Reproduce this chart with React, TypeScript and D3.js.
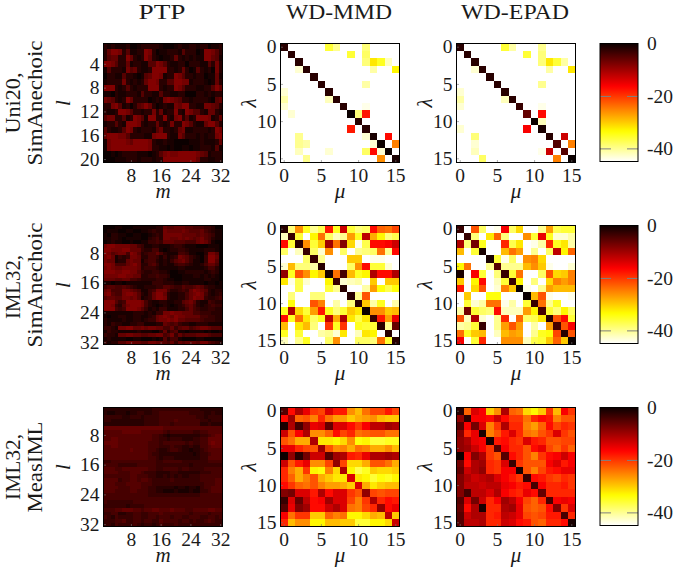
import React, { useEffect, useRef } from 'react';
import * as d3 from 'd3';

const serif = '"Liberation Serif", serif';

// PTP magnitudes: every character is the attenuation in dB of one cell (0 = 0 dB, 8 = -8 dB)
const ptpUni20 = [
  '21211120 01222221 00012112 21220112',
  '26887251 12287201 12221522 20188752',
  '25662286 21286210 11262121 21188651',
  '88752261 22115587 52112202 22115272',
  '15222175 62112888 82212620 15212072',
  '02211522 10156887 12287522 12201161',
  '12222721 21268872 25588771 22210162',
  '88821252 12228882 12287522 21122586',
  '11021122 21522115 22112200 02212122',
  '76521286 22220121 78765221 22221056',
  '22785120 25686201 21176882 21177652',
  '21128875 22122726 12282187 55216621',
  '57722512 87518822 82178251 28887126',
  '12252188 87212262 12722875 21168852',
  '52112587 21222157 22126711 22221287',
  '68887752 22211788 82117522 21212278',
  '17888876 88887211 21100001 11211126',
  '17888888 88887221 10100110 11222151',
  '00101222 21110125 78778888 87651222',
  '00011122 21222122 88888888 86221122',
];

const ptpIml32Sim = [
  '00011000 11111122 65566655 44433200',
  '01110011 00112322 76666765 55643211',
  '10221100 11001232 77777666 65654311',
  '11221011 11002342 77667676 56754211',
  '01211001 00113343 66655544 46764100',
  '78877776 64311221 11233211 10001110',
  '88777886 66322441 01223321 11122210',
  '87567748 75234464 21114431 10027750',
  '78613237 76224431 31237653 21038860',
  '76612267 66134421 21356753 11038850',
  '88744467 86224531 21134432 11246640',
  '78766777 76233321 11112211 11124420',
  '88877887 75322332 21001122 22212320',
  '77778877 66223343 32000111 22121210',
  '66655664 43222233 21100111 11122110',
  '11011011 11111333 22211221 11101101',
  '45544543 21122233 55433544 56532211',
  '67444776 54113477 74223436 87652122',
  '78544788 75213688 62112246 78742123',
  '56655776 75123688 72112246 87732234',
  '88853488 88742112 21122567 52114322',
  '88732578 88742101 21012356 42123433',
  '88843488 87531213 31112246 43223322',
  '11111111 22212133 77877666 44333222',
  '10112211 22112367 87687766 66443322',
  '21111211 22123367 78786655 55433322',
  '21322112 23311122 65453221 12221111',
  '33217788 66767766 44635664 56776555',
  '13221111 12111002 62451101 11101001',
  '32216677 66556677 45736455 56665444',
  '12111100 11000101 52441000 01100000',
  '31225577 66557766 54636566 65775432',
];

const ptpIml32Meas = [
  '22222222 22222333 33333333 33222222',
  '21122212 23322334 44444443 33322322',
  '33333223 33233334 44444444 43323333',
  '33222222 22233334 44454444 44332333',
  '22222222 22233334 44344444 44223222',
  '66666666 66666666 55555555 55555555',
  '55555666 66555555 43444444 33445555',
  '55555555 55555443 21222222 22334566',
  '55665555 55555443 32333222 33446666',
  '66665555 55554443 44444434 33446766',
  '55665555 55554443 33433223 22445666',
  '55555556 55554432 23443221 22345555',
  '55555555 55554332 22222222 12334555',
  '55555555 55554432 33322222 22335555',
  '33444444 44444433 44444333 33334444',
  '44443333 34444433 33333332 33333333',
  '55544555 55554433 44443443 33344444',
  '55554445 55433322 22332222 22333444',
  '44444445 54443322 32323223 33444444',
  '55553445 54554333 33433333 33444455',
  '55544455 55444333 33333333 33344455',
  '55554445 55443322 22212212 21344555',
  '55544445 54443322 11121112 11334555',
  '44444444 44443333 33333333 33444444',
  '44444444 44444444 44444444 44444444',
  '43333333 44444444 44444444 44444444',
  '33333323 33344444 44444444 44444444',
  '44455666 55455665 55655544 55556655',
  '33442233 44334445 44444443 44443444',
  '43243333 44334434 44344334 44334434',
  '33344533 44344335 44443443 43345433',
  '33243333 43233234 33343333 33333333',
];

// -50 is anything below the colour range, drawn white
const mmdUni20 = [
  [-2,-50,-50,-50,-50,-50,-36,-40,-50,-50,-50,-39,-50,-50,-50,-50],
  [-50,-2,-50,-50,-50,-50,-50,-50,-50,-36,-50,-38,-50,-50,-50,-50],
  [-50,-50,-2,-50,-50,-50,-50,-50,-50,-50,-50,-39,-32,-35,-42,-50],
  [-50,-50,-43,-2,-50,-50,-50,-50,-50,-50,-50,-50,-41,-50,-50,-33],
  [-50,-50,-50,-50,-2,-50,-50,-50,-50,-50,-50,-50,-50,-50,-50,-50],
  [-50,-50,-50,-50,-50,-2,-50,-50,-50,-50,-50,-41,-50,-50,-50,-50],
  [-43,-50,-50,-50,-50,-50,-2,-50,-50,-50,-50,-50,-50,-50,-50,-50],
  [-41,-50,-50,-50,-50,-50,-42,-2,-50,-50,-50,-50,-50,-50,-50,-50],
  [-43,-50,-50,-50,-50,-50,-50,-50,-2,-50,-50,-44,-50,-50,-50,-50],
  [-50,-43,-50,-50,-50,-50,-50,-50,-50,0,-39,-18,-50,-50,-50,-50],
  [-50,-50,-50,-50,-50,-50,-50,-50,-50,-50,-2,-50,-50,-50,-50,-50],
  [-50,-50,-50,-50,-50,-50,-50,-50,-50,-18,-50,-2,-50,-50,-50,-50],
  [-50,-50,-40,-50,-50,-50,-50,-50,-50,-50,-50,-43,-1,-50,-17,-50],
  [-50,-50,-40,-41,-50,-50,-50,-50,-50,-50,-50,-50,-43,0,-50,-25],
  [-50,-50,-42,-50,-50,-50,-43,-50,-50,-50,-50,-38,-17,-43,0,-50],
  [-50,-50,-50,-40,-50,-50,-50,-50,-50,-50,-50,-50,-50,-26,-50,-1],
];

const epadUni20 = [
  [-2,-50,-50,-50,-50,-50,-36,-41,-50,-50,-50,-40,-50,-50,-50,-50],
  [-50,-2,-50,-50,-50,-50,-50,-50,-50,-36,-50,-39,-50,-50,-50,-50],
  [-50,-50,-2,-50,-50,-50,-50,-50,-50,-50,-50,-39,-32,-36,-41,-50],
  [-50,-50,-43,-2,-50,-50,-50,-50,-50,-50,-50,-50,-41,-50,-50,-32],
  [-50,-50,-50,-50,-2,-50,-50,-50,-50,-50,-50,-50,-50,-50,-50,-50],
  [-50,-50,-50,-50,-50,-2,-50,-50,-50,-50,-50,-40,-50,-50,-50,-50],
  [-43,-50,-50,-50,-50,-50,-2,-50,-50,-50,-50,-50,-50,-50,-50,-50],
  [-41,-50,-50,-50,-50,-50,-42,-2,-50,-50,-50,-50,-50,-50,-50,-50],
  [-43,-50,-50,-50,-50,-50,-50,-50,-3,-50,-50,-44,-50,-50,-50,-50],
  [-50,-50,-50,-50,-50,-50,-50,-50,-50,-6,-50,-17,-50,-50,-50,-50],
  [-50,-50,-50,-50,-50,-50,-50,-50,-50,-50,0,-42,-50,-50,-50,-50],
  [-43,-50,-50,-50,-50,-50,-50,-50,-50,-16,-50,-1,-50,-50,-50,-50],
  [-50,-50,-39,-50,-50,-50,-50,-50,-50,-50,-50,-50,-2,-50,-13,-50],
  [-50,-50,-43,-50,-50,-50,-50,-50,-50,-50,-50,-50,-50,-5,-50,-25],
  [-50,-50,-42,-50,-50,-50,-50,-50,-50,-50,-50,-44,-13,-50,-5,-50],
  [-50,-50,-50,-38,-50,-50,-50,-50,-50,-50,-50,-50,-50,-25,-50,0],
];

const mmdSim = [
  [-2,-39,-26,-35,-40,-37,-18,-35,-13,-36,-39,-38,-17,-23,-24,-21],
  [-42,-3,-36,-45,-33,-24,-38,-42,-40,-27,-35,-12,-28,-33,-39,-37],
  [-17,-36,-2,-26,-36,-30,-10,-24,-8,-31,-44,-37,-17,-17,-16,-13],
  [-38,-45,-42,-3,-38,-43,-26,-50,-38,-50,-40,-39,-38,-24,-40,-17],
  [-50,-50,-50,-38,-3,-40,-50,-50,-50,-30,-30,-50,-44,-44,-50,-50],
  [-43,-29,-39,-39,-41,-2,-50,-50,-50,-38,-26,-17,-36,-36,-43,-50],
  [-9,-35,-22,-26,-33,-30,-1,-24,-4,-29,-35,-33,-11,-17,-17,-11],
  [-32,-44,-37,-43,-45,-45,-33,-3,-43,-42,-41,-50,-30,-50,-30,-30],
  [-50,-50,-37,-50,-50,-50,-36,-40,-2,-50,-50,-41,-27,-34,-37,-34],
  [-50,-39,-50,-50,-39,-39,-50,-50,-50,-2,-40,-22,-50,-50,-50,-50],
  [-50,-34,-50,-50,-22,-25,-50,-41,-50,-39,-2,-30,-41,-35,-50,-41],
  [-35,-11,-31,-36,-27,-18,-35,-39,-36,-30,-32,0,-26,-26,-30,-29],
  [-17,-35,-24,-32,-38,-35,-12,-28,-11,-32,-37,-32,-3,-18,-27,-15],
  [-29,-50,-32,-29,-39,-50,-20,-35,-20,-50,-35,-36,-36,-2,-40,-6],
  [-35,-50,-36,-45,-50,-41,-40,-43,-32,-50,-42,-32,-33,-50,-2,-50],
  [-42,-50,-40,-35,-50,-50,-38,-26,-50,-50,-38,-38,-39,-24,-36,-2],
];

const epadSim = [
  [-3,-50,-22,-38,-50,-44,-16,-38,-31,-50,-50,-40,-27,-37,-36,-36],
  [-50,-3,-39,-50,-32,-23,-39,-50,-50,-26,-36,-15,-35,-43,-43,-41],
  [-11,-39,-7,-35,-50,-50,-19,-37,-32,-50,-44,-41,-19,-35,-32,-41],
  [-29,-50,-36,-1,-50,-50,-29,-24,-27,-50,-40,-50,-38,-12,-33,-23],
  [-50,-50,-50,-50,-1,-36,-44,-38,-50,-26,-25,-31,-50,-50,-45,-50],
  [-33,-24,-50,-50,-40,-5,-40,-40,-40,-29,-26,-30,-44,-50,-45,-43],
  [-1,-50,-16,-36,-50,-39,-3,-36,-24,-50,-50,-38,-22,-31,-30,-25],
  [-30,-50,-33,-17,-50,-42,-36,-3,-33,-50,-39,-45,-31,-25,-27,-25],
  [-18,-50,-31,-22,-50,-43,-25,-30,0,-44,-50,-40,-27,-29,-29,-29],
  [-50,-30,-50,-50,-34,-34,-45,-50,-50,0,-29,-22,-44,-50,-50,-44],
  [-50,-36,-43,-41,-24,-24,-44,-41,-50,-36,-3,-24,-40,-35,-50,-50],
  [-41,-7,-36,-38,-39,-17,-42,-42,-42,-27,-33,-4,-36,-39,-33,-38],
  [-22,-42,-11,-43,-50,-40,-19,-50,-23,-38,-37,-32,-2,-22,-17,-36],
  [-41,-40,-36,-3,-50,-40,-27,-22,-27,-50,-41,-50,-27,-4,-22,-16],
  [-24,-35,-30,-29,-50,-42,-29,-27,-28,-50,-40,-35,-34,-21,-2,-22],
  [-16,-50,-36,-19,-50,-50,-26,-26,-26,-42,-37,-36,-30,-23,-30,0],
];

const mmdMeas = [
  [-5,-17,-11,-15,-20,-21,-14,-18,-18,-26,-29,-24,-21,-21,-18,-21],
  [-17,-10,-23,-22,-25,-19,-24,-27,-27,-30,-28,-27,-26,-29,-30,-30],
  [-1,-11,-4,-9,-15,-14,-6,-14,-14,-17,-20,-16,-12,-12,-10,-11],
  [-13,-22,-16,-11,-26,-26,-23,-17,-21,-19,-24,-23,-22,-22,-24,-24],
  [-22,-24,-28,-28,-11,-32,-32,-33,-31,-26,-34,-33,-36,-36,-35,-35],
  [-15,-15,-19,-21,-22,-10,-22,-26,-25,-28,-24,-25,-28,-28,-26,-29],
  [0,-9,-2,-7,-13,-13,-5,-10,-11,-18,-19,-15,-11,-11,-10,-11],
  [-13,-22,-18,-15,-26,-26,-21,-9,-21,-31,-31,-28,-22,-22,-24,-28],
  [-19,-25,-28,-20,-33,-34,-25,-31,-11,-33,-37,-35,-30,-31,-31,-30],
  [-19,-23,-28,-25,-22,-28,-30,-32,-32,-14,-32,-33,-36,-34,-35,-33],
  [-17,-20,-23,-24,-22,-25,-27,-27,-28,-30,-14,-28,-32,-30,-29,-29],
  [-8,-7,-14,-14,-18,-11,-17,-14,-14,-20,-22,-9,-21,-22,-21,-21],
  [-3,-14,-6,-12,-17,-16,-10,-14,-14,-21,-25,-20,-11,-19,-17,-18],
  [-5,-15,-8,-10,-17,-17,-13,-11,-14,-24,-25,-21,-19,-9,-17,-15],
  [-16,-24,-20,-20,-30,-30,-23,-25,-24,-33,-33,-31,-28,-29,-12,-30],
  [-19,-29,-26,-26,-33,-33,-29,-29,-30,-30,-36,-36,-33,-33,-31,-13],
];

const epadMeas = [
  [-2,-23,-14,-16,-30,-26,-11,-23,-24,-31,-33,-30,-20,-29,-16,-20],
  [-9,-2,-16,-16,-17,-13,-17,-20,-20,-24,-19,-17,-18,-25,-22,-22],
  [-5,-16,-7,-14,-25,-20,-11,-19,-19,-25,-27,-23,-17,-21,-19,-20],
  [-8,-19,-15,-1,-25,-22,-18,-14,-19,-24,-25,-22,-20,-14,-20,-22],
  [-9,-11,-15,-16,-1,-18,-17,-19,-20,-14,-18,-19,-22,-22,-21,-21],
  [-9,-10,-13,-16,-20,-5,-16,-19,-19,-22,-17,-15,-21,-23,-20,-23],
  [0,-16,-8,-11,-20,-22,-5,-17,-19,-22,-25,-20,-17,-16,-13,-16],
  [-7,-17,-11,-10,-19,-20,-14,-3,-20,-22,-22,-22,-16,-14,-18,-16],
  [-6,-13,-11,-9,-19,-20,-16,-16,-1,-22,-25,-21,-18,-17,-15,-15],
  [-8,-11,-13,-12,-11,-14,-16,-18,-20,-3,-17,-18,-20,-21,-19,-20],
  [-8,-12,-12,-13,-12,-12,-15,-16,-18,-17,-4,-16,-19,-19,-18,-20],
  [-8,-4,-12,-12,-14,-11,-16,-18,-19,-15,-17,-6,-19,-19,-19,-19],
  [-5,-14,-7,-13,-19,-16,-10,-12,-16,-21,-23,-19,-4,-16,-15,-16],
  [-6,-17,-11,-1,-19,-19,-11,-10,-15,-22,-23,-22,-17,-8,-20,-14],
  [-5,-13,-11,-11,-19,-18,-12,-13,-15,-21,-22,-21,-18,-18,-4,-19],
  [-5,-12,-12,-11,-19,-19,-13,-14,-17,-18,-22,-23,-19,-19,-17,-1],
];

const columnTitles = ['PTP', 'WD-MMD', 'WD-EPAD'];
const ptpXTicks = [8, 16, 24, 32];
const uni20YTicks = [4, 8, 12, 16, 20];
const iml32YTicks = [8, 16, 24, 32];
const wdTicks = [0, 5, 10, 15];
const colorTicks = [0, -20, -40];
const colorDomain: [number, number] = [-45, 0];

const decode = (rows: string[]) =>
  rows.map((r) => r.replace(/ /g, '').split('').map((c) => -Number(c)));

// hot colormap, reversed so that 0 dB is black
const red = d3.scaleLinear().domain([0, 0.365]).range([0.0416, 1]).clamp(true);
const green = d3.scaleLinear().domain([0.365, 0.746]).range([0, 1]).clamp(true);
const blue = d3.scaleLinear().domain([0.746, 1]).range([0, 1]).clamp(true);
const toT = d3.scaleLinear().domain(colorDomain).range([1, 0]).clamp(true);
const hot = (db: number) => {
  const t = toT(db);
  return d3.rgb(red(t) * 255, green(t) * 255, blue(t) * 255).formatHex();
};

const styleAxis = (g: any) => {
  g.select('.domain').remove();
  g.attr('font-family', serif).attr('font-size', 19.5);
  g.selectAll('text').attr('fill', '#1a1a1a');
};

const SIZE = 119;

const Panel = ({ left, top, data, xTicks, yTicks, first, xName, yName, yNameX }: any) => {
  const xRef = useRef<SVGGElement>(null);
  const yRef = useRef<SVGGElement>(null);
  const nx = data[0].length;
  const ny = data.length;
  const x = d3.scaleBand<number>().domain(d3.range(first, first + nx)).range([left, left + SIZE]);
  const y = d3.scaleBand<number>().domain(d3.range(first, first + ny)).range([top, top + SIZE]);

  useEffect(() => {
    const xAxis = d3.axisBottom(x).tickValues(xTicks).tickSizeInner(-2.5).tickSizeOuter(0).tickPadding(5.5);
    const yAxis = d3.axisLeft(y).tickValues(yTicks).tickSizeInner(-2.5).tickSizeOuter(0).tickPadding(4);
    d3.select(xRef.current).call(xAxis as any).call(styleAxis);
    d3.select(yRef.current).call(yAxis as any).call(styleAxis);
    d3.select(xRef.current).selectAll('line').attr('stroke', '#777').attr('stroke-width', 0.6);
    d3.select(yRef.current).selectAll('line').attr('stroke', '#777').attr('stroke-width', 0.6);
  }, []);

  return (
    <g>
      <g shapeRendering="crispEdges">
        {data.map((row: number[], i: number) =>
          row.map((v, j) => (
            <rect
              key={`${i}-${j}`}
              x={x(first + j)}
              y={y(first + i)}
              width={x.bandwidth()}
              height={y.bandwidth()}
              fill={hot(v)}
            />
          ))
        )}
      </g>
      <g ref={xRef} transform={`translate(0,${top + SIZE})`} />
      <g ref={yRef} transform={`translate(${left},0)`} />
      <rect x={left} y={top} width={SIZE} height={SIZE} fill="none" stroke="#000" strokeWidth={1} />
      <text x={left + SIZE / 2} y={top + SIZE + 35} textAnchor="middle" fontFamily={serif} fontStyle="italic" fontSize={21} fill="#1a1a1a">
        {xName}
      </text>
      <text
        transform={`translate(${yNameX},${top + SIZE / 2}) rotate(-90)`}
        textAnchor="middle"
        fontFamily={serif}
        fontStyle="italic"
        fontSize={21}
        fill="#1a1a1a"
      >
        {yName}
      </text>
    </g>
  );
};

const ColorBar = ({ top, id }: any) => {
  const rightRef = useRef<SVGGElement>(null);
  const leftRef = useRef<SVGGElement>(null);
  const barLeft = 600;
  const barWidth = 38;
  const scale = d3.scaleLinear().domain([0, colorDomain[0]]).range([top, top + 118]);
  const stops = d3.range(0, 1.0001, 0.02);

  useEffect(() => {
    const right = d3.axisRight(scale).tickValues(colorTicks).tickFormat((d: any) => String(d)).tickSizeInner(-11).tickSizeOuter(0).tickPadding(9);
    const left = d3.axisLeft(scale).tickValues(colorTicks).tickFormat(() => '').tickSizeInner(-11).tickSizeOuter(0);
    d3.select(rightRef.current).call(right as any).call(styleAxis);
    d3.select(leftRef.current).call(left as any).call(styleAxis);
    [rightRef, leftRef].forEach((r) => {
      const ticks = d3.select(r.current).selectAll('.tick');
      ticks.select('line').attr('stroke', (d: any) => (d === 0 ? 'none' : '#808080'));
    });
  }, []);

  return (
    <g>
      <defs>
        <linearGradient id={id} x1="0" y1="0" x2="0" y2="1">
          {stops.map((s) => (
            <stop key={s} offset={s} stopColor={hot(colorDomain[0] * s)} />
          ))}
        </linearGradient>
      </defs>
      <rect x={barLeft} y={top} width={barWidth} height={118} fill={`url(#${id})`} />
      <g ref={rightRef} transform={`translate(${barLeft + barWidth},0)`} />
      <g ref={leftRef} transform={`translate(${barLeft},0)`} />
      <rect x={barLeft} y={top} width={barWidth} height={118} fill="none" stroke="#000" strokeWidth={1} />
    </g>
  );
};

const RowLabel = ({ lines, cy }: any) => (
  <g fontFamily={serif} fontSize={21} fill="#1a1a1a">
    {lines.map((l: any) => (
      <text
        key={l.text}
        transform={`translate(${l.x},${cy + l.dy}) rotate(-90)`}
        textAnchor="middle"
        textLength={l.len}
        lengthAdjust="spacingAndGlyphs"
      >
        {l.text}
      </text>
    ))}
  </g>
);

const rowTops = [43.5, 225.5, 407.5];
const colLefts = [103.5, 280.5, 456.5];
const titleCenters = [162, 339, 515];
const titleLengths = [47, 106, 108];

const rowMatrices = [
  { ptp: decode(ptpUni20), mmd: mmdUni20, epad: epadUni20, yTicks: uni20YTicks },
  { ptp: decode(ptpIml32Sim), mmd: mmdSim, epad: epadSim, yTicks: iml32YTicks },
  { ptp: decode(ptpIml32Meas), mmd: mmdMeas, epad: epadMeas, yTicks: iml32YTicks },
];

const rowLabels = [
  { cy: 103, lines: [{ text: 'Uni20,', x: 20, dy: 0, len: 61 }, { text: 'SimAnechoic', x: 42, dy: 0, len: 125 }] },
  { cy: 285, lines: [{ text: 'IML32,', x: 20, dy: 2, len: 64 }, { text: 'SimAnechoic', x: 42, dy: 0, len: 125 }] },
  { cy: 467, lines: [{ text: 'IML32,', x: 20, dy: 0, len: 66 }, { text: 'MeasIML', x: 42, dy: 0, len: 91 }] },
];

export default function App() {
  return (
    <svg width={676} height={568} style={{ position: 'absolute', left: 0, top: 0, background: '#fff' }}>
      {columnTitles.map((t, i) => (
        <text
          key={t}
          x={titleCenters[i]}
          y={19}
          textAnchor="middle"
          fontFamily={serif}
          fontSize={21}
          fill="#1a1a1a"
          textLength={titleLengths[i]}
          lengthAdjust="spacingAndGlyphs"
        >
          {t}
        </text>
      ))}
      {rowMatrices.map((m, r) => (
        <g key={r}>
          <RowLabel lines={rowLabels[r].lines} cy={rowLabels[r].cy} />
          <Panel left={colLefts[0]} top={rowTops[r]} data={m.ptp} xTicks={ptpXTicks} yTicks={m.yTicks} first={1} xName="m" yName="l" yNameX={70} />
          <Panel left={colLefts[1]} top={rowTops[r]} data={m.mmd} xTicks={wdTicks} yTicks={wdTicks} first={0} xName="μ" yName="λ" yNameX={256} />
          <Panel left={colLefts[2]} top={rowTops[r]} data={m.epad} xTicks={wdTicks} yTicks={wdTicks} first={0} xName="μ" yName="λ" yNameX={432} />
          <ColorBar top={rowTops[r]} id={`cbar${r}`} />
        </g>
      ))}
    </svg>
  );
}
